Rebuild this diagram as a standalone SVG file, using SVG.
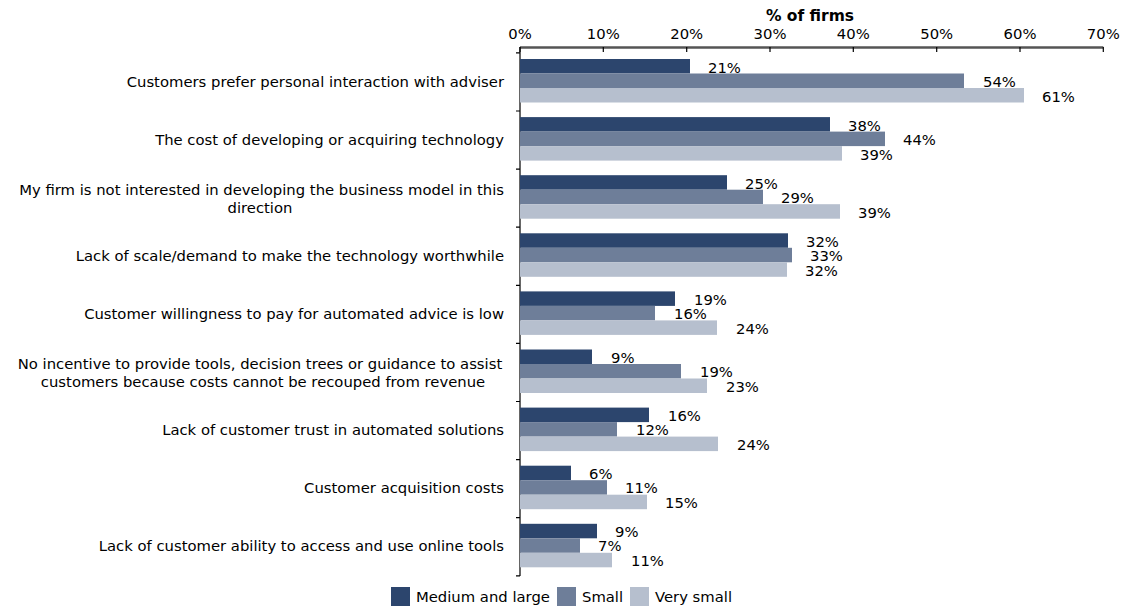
<svg xmlns="http://www.w3.org/2000/svg" width="1135" height="609" viewBox="0 0 1135 609">
<style>
text{font-family:"DejaVu Sans",Verdana,sans-serif;font-size:14.8px;fill:#000}
.cat{text-anchor:end}
.ctr{text-anchor:middle}
.tick{text-anchor:middle}
.d{fill:#2C456D}
.m{fill:#6E7E99}
.l{fill:#B6BFCE}
.ax{stroke:#000;stroke-width:1.2;fill:none}
.ax2{stroke:#555;stroke-width:2.5;fill:none}
</style>
<rect width="1135" height="609" fill="#fff"/>
<g id="axes">
<text x="810" y="21" class="tick" style="font-weight:bold;font-size:15.5px">% of firms</text>
<text x="520" y="39" class="tick">0%</text>
<text x="603.3" y="39" class="tick">10%</text>
<text x="686.7" y="39" class="tick">20%</text>
<text x="770" y="39" class="tick">30%</text>
<text x="853.3" y="39" class="tick">40%</text>
<text x="936.7" y="39" class="tick">50%</text>
<text x="1020" y="39" class="tick">60%</text>
<text x="1103.3" y="39" class="tick">70%</text>
<path class="ax2" d="M520 47.5H1103.3"/>
<path class="ax" d="M520 47V52M603.3 47V52M686.7 47V52M770 47V52M853.3 47V52M936.7 47V52M1020 47V52M1103.3 47V52"/>
<path class="ax" d="M520 47V576M516 52.9H520M516 111H520M516 169.1H520M516 227.2H520M516 285.3H520M516 343.4H520M516 401.5H520M516 459.6H520M516 517.7H520M516 575.8H520"/>
</g>
<g id="cat1">
<rect class="d" x="520" y="59" width="170" height="14.5"/>
<rect class="m" x="520" y="73.5" width="444" height="14.5"/>
<rect class="l" x="520" y="88" width="504" height="14.5"/>
<text x="708" y="72.5">21%</text>
<text x="983" y="87">54%</text>
<text x="1042" y="101.5">61%</text>
<text class="cat" x="504" y="87">Customers prefer personal interaction with adviser</text>
</g>
<g id="cat2">
<rect class="d" x="520" y="117.1" width="310" height="14.5"/>
<rect class="m" x="520" y="131.6" width="365" height="14.5"/>
<rect class="l" x="520" y="146.1" width="322" height="14.5"/>
<text x="848" y="130.6">38%</text>
<text x="903" y="145.1">44%</text>
<text x="860" y="159.6">39%</text>
<text class="cat" x="504" y="145.1">The cost of developing or acquiring technology</text>
</g>
<g id="cat3">
<rect class="d" x="520" y="175.2" width="207" height="14.5"/>
<rect class="m" x="520" y="189.7" width="243" height="14.5"/>
<rect class="l" x="520" y="204.2" width="320" height="14.5"/>
<text x="745" y="188.7">25%</text>
<text x="781" y="203.2">29%</text>
<text x="858" y="217.7">39%</text>
<text class="cat" x="504" y="194.7">My firm is not interested in developing the business model in this</text>
<text class="ctr" x="260" y="212.7">direction</text>
</g>
<g id="cat4">
<rect class="d" x="520" y="233.3" width="268" height="14.5"/>
<rect class="m" x="520" y="247.8" width="272" height="14.5"/>
<rect class="l" x="520" y="262.3" width="267" height="14.5"/>
<text x="806" y="246.5">32%</text>
<text x="810" y="261.3">33%</text>
<text x="805" y="276">32%</text>
<text class="cat" x="504" y="261.3">Lack of scale/demand to make the technology worthwhile</text>
</g>
<g id="cat5">
<rect class="d" x="520" y="291.4" width="155" height="14.5"/>
<rect class="m" x="520" y="305.9" width="135" height="14.5"/>
<rect class="l" x="520" y="320.4" width="197" height="14.5"/>
<text x="694" y="304.9">19%</text>
<text x="674" y="319.4">16%</text>
<text x="736" y="333.9">24%</text>
<text class="cat" x="504" y="319.4">Customer willingness to pay for automated advice is low</text>
</g>
<g id="cat6">
<rect class="d" x="520" y="349.5" width="72" height="14.5"/>
<rect class="m" x="520" y="364" width="161" height="14.5"/>
<rect class="l" x="520" y="378.5" width="187" height="14.5"/>
<text x="611" y="362.5">9%</text>
<text x="700" y="377">19%</text>
<text x="726" y="391.5">23%</text>
<text class="ctr" x="260" y="368.5">No incentive to provide tools, decision trees or guidance to assist</text>
<text class="ctr" x="263" y="386.5">customers because costs cannot be recouped from revenue</text>
</g>
<g id="cat7">
<rect class="d" x="520" y="407.6" width="129" height="14.5"/>
<rect class="m" x="520" y="422.1" width="97" height="14.5"/>
<rect class="l" x="520" y="436.6" width="198" height="14.5"/>
<text x="668" y="420.6">16%</text>
<text x="636" y="435.1">12%</text>
<text x="737" y="449.6">24%</text>
<text class="cat" x="504" y="435.1">Lack of customer trust in automated solutions</text>
</g>
<g id="cat8">
<rect class="d" x="520" y="465.7" width="51" height="14.5"/>
<rect class="m" x="520" y="480.2" width="87" height="14.5"/>
<rect class="l" x="520" y="494.7" width="127" height="14.5"/>
<text x="589" y="478.7">6%</text>
<text x="625" y="493.2">11%</text>
<text x="665" y="507.7">15%</text>
<text class="cat" x="504" y="493.2">Customer acquisition costs</text>
</g>
<g id="cat9">
<rect class="d" x="520" y="523.8" width="77" height="14.5"/>
<rect class="m" x="520" y="538.3" width="60" height="14.5"/>
<rect class="l" x="520" y="552.8" width="92" height="14.5"/>
<text x="615" y="536.8">9%</text>
<text x="598" y="551.3">7%</text>
<text x="631" y="565.8">11%</text>
<text class="cat" x="504" y="551.3">Lack of customer ability to access and use online tools</text>
</g>
<g id="legend">
<rect class="d" x="391" y="587" width="19" height="19"/>
<text x="416" y="602">Medium and large</text>
<rect class="m" x="557" y="587" width="19" height="19"/>
<text x="582" y="602">Small</text>
<rect class="l" x="630" y="587" width="19" height="19"/>
<text x="655" y="602">Very small</text>
</g>
</svg>
